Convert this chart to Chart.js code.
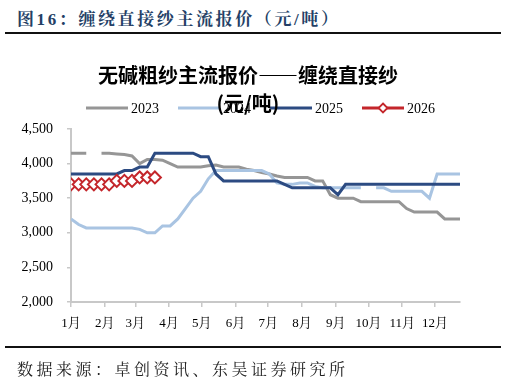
<!DOCTYPE html>
<html lang="zh-CN">
<head>
    <meta charset="UTF-8">
    <title>缠绕直接纱主流报价</title>
    <script src="https://cdn.jsdelivr.net/npm/chart.js"></script>
    <style>
        body {
            margin: 0;
            width: 506px;
            height: 387px;
            position: relative;
            background: #fff;
            overflow: hidden;
        }
        .rule {
            position: absolute;
            left: 5px;
            width: 496px;
            height: 2px;
            background: #111;
        }
        #header {
            position: absolute;
            left: 17px;
            top: 5px;
            line-height: 20px;
            font: bold 17px "Liberation Serif", "Noto Serif CJK SC", "Noto Sans CJK SC", serif;
            letter-spacing: 2.6px;
            color: #243F66;
            white-space: nowrap;
        }
        #chartTitle {
            position: absolute;
            left: 0;
            top: 61px;
            width: 496px;
            text-align: center;
            font: bold 20px "Noto Sans CJK SC", sans-serif;
            line-height: 28px;
            color: #000;
        }
        #footer {
            position: absolute;
            left: 17px;
            top: 357px;
            line-height: 20px;
            font: 16px "Noto Serif CJK SC", "Noto Sans CJK SC", serif;
            letter-spacing: 3.5px;
            color: #222;
            white-space: nowrap;
        }
        canvas {
            position: absolute;
            left: 0;
            top: 0;
        }
    </style>
</head>
<body>

<div id="header">图16：缠绕直接纱主流报价（元/吨）</div>
<div class="rule" style="top:32px"></div>
<canvas id="priceChart" width="506" height="387"></canvas>
<div id="chartTitle">无碱粗纱主流报价——缠绕直接纱<br>(元/吨)</div>
<div class="rule" style="top:346px"></div>
<div id="footer">数据来源：卓创资讯、东吴证券研究所</div>

<script>
    // day of year for each weekly quote
    const weekDays = [0, 7, 14, 21, 28, 35, 42, 49, 56, 63, 70, 77, 84, 91, 98, 105, 112, 119, 126, 133,
        140, 147, 154, 161, 168, 175, 182, 189, 196, 203, 210, 217, 224, 231, 238, 245, 252, 259, 266, 273,
        280, 287, 294, 301, 308, 315, 322, 329, 336, 343, 350, 357];

    const monthStarts = [0, 31, 59, 90, 120, 151, 181, 212, 243, 273, 304, 334];
    const monthLabels = ['1月', '2月', '3月', '4月', '5月', '6月', '7月', '8月', '9月', '10月', '11月', '12月'];

    const seriesNames = ['2023', '2024', '2025', '2026'];

    const price2023 = [4150, 4150, 4150, null, 4150, 4150, 4140, 4130, 4110, 4000, 4060, 4060, 4050, 4000,
        3950, 3950, 3950, 3950, 3970, 3980, 3950, 3950, 3950, 3920, 3900, 3870, 3850, 3820, 3800, 3800,
        3800, 3800, 3750, 3750, 3550, 3500, 3500, 3500, 3450, 3450, 3450, 3450, 3450, 3450, 3350, 3300,
        3300, 3300, 3300, 3200, 3200, 3200];

    const price2024 = [3200, 3120, 3070, 3070, 3070, 3070, 3070, 3070, 3070, 3050, 3000, 3000, 3100, 3100,
        3200, 3350, 3500, 3600, 3780, 3900, 3900, 3900, 3900, 3900, 3900, 3900, 3850, 3720, 3700, 3700,
        3720, 3720, 3670, 3650, 3650, 3650, 3650, 3650, 3650, null, 3650, 3650, 3600, 3600, 3600, 3600,
        3600, 3500, 3850, 3850, 3850, 3850];

    const price2025 = [3850, 3850, 3850, 3850, 3850, 3850, 3850, 3900, 3900, 3950, 3950, 4150, 4150, 4150,
        4150, 4150, 4150, 4100, 4100, 3850, 3750, 3750, 3750, 3750, 3750, 3750, 3750, 3750, 3700, 3650,
        3650, 3650, 3650, 3650, 3650, 3550, 3700, 3700, 3700, 3700, 3700, 3700, 3700, 3700, 3700, 3700,
        3700, 3700, 3700, 3700, 3700, 3700];

    const price2026 = [3700, 3700, 3700, 3700, 3700, 3700, 3750, 3750, 3750, 3800, 3800, 3800];

    const colors = ['#969696', '#A9C4E2', '#2C4B82', '#C4262B'];

    const toPoints = arr => arr.map((v, i) => ({ x: weekDays[i], y: v }));

    const serifFont = '"Liberation Serif", "Noto Serif CJK SC", "Noto Sans CJK SC", serif';

    // legend row drawn by hand so the 2026 entry gets its diamond on the line
    const legendRow = {
        id: 'legendRow',
        afterDraw(chart) {
            const ctx = chart.ctx;
            const startX = [86, 178, 270, 362];
            const y = 108;
            ctx.save();
            chart.data.datasets.forEach((ds, i) => {
                const x = startX[i];
                ctx.strokeStyle = ds.borderColor;
                ctx.lineWidth = 3;
                ctx.beginPath();
                ctx.moveTo(x, y);
                ctx.lineTo(x + 42, y);
                ctx.stroke();
                if (ds.pointRadius > 0) {
                    const cx = x + 21, r = 4.5;
                    ctx.fillStyle = '#fff';
                    ctx.lineWidth = 1.8;
                    ctx.beginPath();
                    ctx.moveTo(cx, y - r);
                    ctx.lineTo(cx + r, y);
                    ctx.lineTo(cx, y + r);
                    ctx.lineTo(cx - r, y);
                    ctx.closePath();
                    ctx.fill();
                    ctx.stroke();
                }
                ctx.fillStyle = '#000';
                ctx.font = '14px ' + serifFont;
                ctx.textBaseline = 'middle';
                ctx.fillText(ds.label, x + 45, y + 1);
            });
            ctx.restore();
        }
    };

    const ctx = document.getElementById('priceChart').getContext('2d');

    new Chart(ctx, {
        type: 'line',
        data: {
            datasets: [
                { label: seriesNames[0], data: toPoints(price2023), borderColor: colors[0], borderWidth: 3, pointRadius: 0, order: 4 },
                { label: seriesNames[1], data: toPoints(price2024), borderColor: colors[1], borderWidth: 3, pointRadius: 0, order: 3 },
                { label: seriesNames[2], data: toPoints(price2025), borderColor: colors[2], borderWidth: 3, pointRadius: 0, order: 2 },
                {
                    label: seriesNames[3], data: toPoints(price2026), borderColor: colors[3], borderWidth: 2.5,
                    pointStyle: 'rectRot', pointRadius: 6, pointBorderWidth: 2,
                    pointBackgroundColor: '#fff', pointBorderColor: colors[3], order: 1
                }
            ]
        },
        options: {
            responsive: false,
            animation: false,
            devicePixelRatio: 1,
            spanGaps: false,
            layout: { padding: { top: 129, right: 46, left: 0, bottom: 0 } },
            plugins: {
                legend: { display: false },
                title: { display: false },
                tooltip: { enabled: false }
            },
            scales: {
                x: {
                    type: 'linear',
                    min: 0,
                    max: 357,
                    afterBuildTicks: scale => {
                        scale.ticks = monthStarts.map(v => ({ value: v }));
                    },
                    afterFit: scale => { scale.height = 85; },
                    ticks: {
                        autoSkip: false,
                        maxRotation: 0,
                        padding: 9,
                        color: '#000',
                        font: { family: serifFont, size: 13 },
                        callback: (v, i) => monthLabels[i]
                    },
                    grid: { drawOnChartArea: false, tickLength: 5, color: '#c8c8c8', lineWidth: 1.5 },
                    border: { color: '#c8c8c8', width: 2 }
                },
                y: {
                    min: 2000,
                    max: 4500,
                    afterFit: scale => { scale.width = 71; },
                    ticks: {
                        stepSize: 500,
                        padding: 14,
                        color: '#000',
                        font: { family: serifFont, size: 14 },
                        callback: v => v.toLocaleString('en-US')
                    },
                    grid: { drawOnChartArea: false, tickLength: 4, color: '#c8c8c8', lineWidth: 1.5 },
                    border: { color: '#c8c8c8', width: 2 }
                }
            }
        },
        plugins: [legendRow]
    });
</script>

</body>
</html>
